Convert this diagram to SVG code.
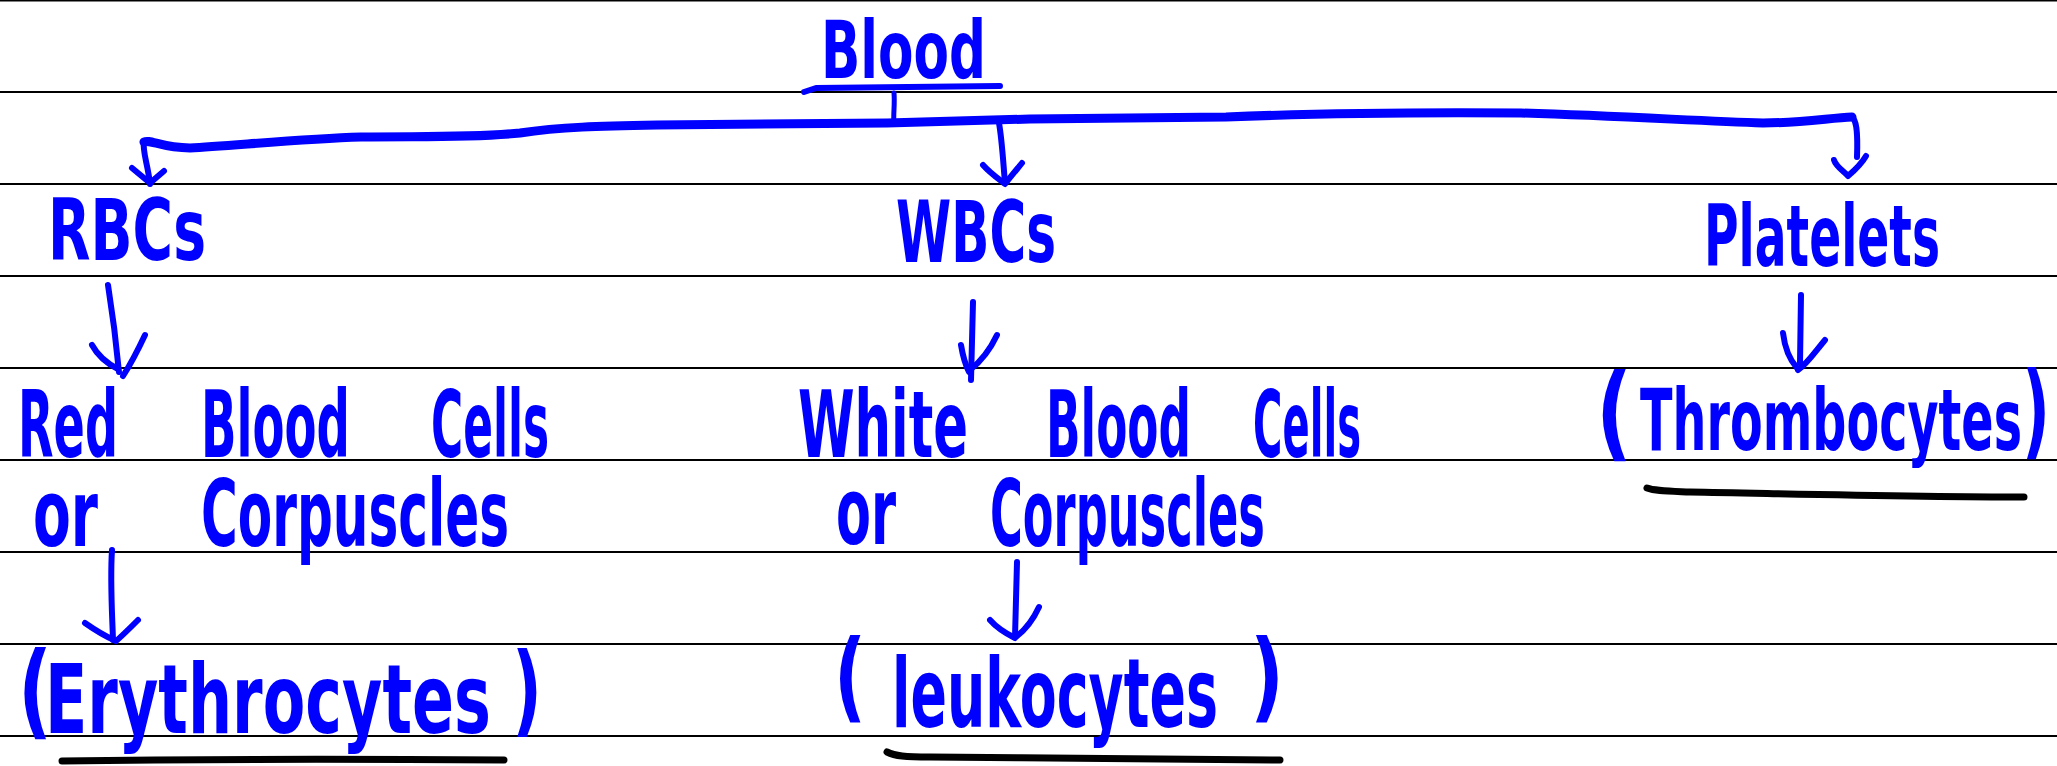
<svg xmlns="http://www.w3.org/2000/svg" width="2057" height="766" viewBox="0 0 2057 766">
<style>
.rule{stroke:#000;stroke-width:2;fill:none}
.t{font-family:"DejaVu Sans","Liberation Sans",sans-serif;font-weight:bold;fill:#0000ff}
.p{font-family:"DejaVu Sans","Liberation Sans",sans-serif;fill:#0000ff}
.c{stroke:#0000ff;fill:none;stroke-linecap:round;stroke-linejoin:round}
.main{stroke-width:9}
.arr{stroke-width:6}
.ul{stroke:#000;stroke-width:7;fill:none;stroke-linecap:round}
</style>
<rect width="2057" height="766" fill="#fff"/>
<g id="rules">
<line class="rule" x1="0" y1="0.5" x2="2057" y2="0.5"/>
<line class="rule" x1="0" y1="92" x2="2057" y2="92"/>
<line class="rule" x1="0" y1="184" x2="2057" y2="184"/>
<line class="rule" x1="0" y1="276" x2="2057" y2="276"/>
<line class="rule" x1="0" y1="368" x2="2057" y2="368"/>
<line class="rule" x1="0" y1="460" x2="2057" y2="460"/>
<line class="rule" x1="0" y1="552" x2="2057" y2="552"/>
<line class="rule" x1="0" y1="644" x2="2057" y2="644"/>
<line class="rule" x1="0" y1="736" x2="2057" y2="736"/>
</g>
<g id="connectors">
<path class="c" stroke-width="6" d="M804,92 L816,88 L1000,86"/>
<path class="c" stroke-width="5" d="M894,93 C895,105 893,115 894,124"/>
<path class="c main" d="M144,142 C150,139 162,148 190,148 C230,146 300,139 361,137 C420,136 470,138 520,133 C560,127 600,126 657,125 L887,123 L1030,119 L1226,117 C1300,114 1390,112 1521,113 C1620,116 1700,121 1763,123 C1800,123 1830,118 1852,117"/>
<path class="c arr" d="M144,142 C142,150 148,165 150,184"/>
<path class="c arr" d="M132,168 L150,183 L164,171"/>
<path class="c arr" d="M1852,117 C1856,120 1858,130 1857,157"/>
<path class="c arr" d="M1834,160 C1836,167 1845,172 1848,176 C1855,170 1862,163 1866,156"/>
<path class="c arr" d="M999,123 C1002,140 1003,160 1005,183"/>
<path class="c arr" d="M983,165 C990,173 1000,180 1005,184 C1012,175 1018,168 1022,163"/>
<path class="c arr" d="M108,285 C112,310 116,340 119,372"/>
<path class="c arr" d="M92,345 C98,356 108,364 118,369 M145,335 C138,350 130,365 123,376"/>
<path class="c arr" d="M973,302 L971,380"/>
<path class="c arr" d="M961,345 C963,357 966,366 969,372 M997,335 C990,350 980,362 970,370"/>
<path class="c arr" d="M1801,295 L1800,363"/>
<path class="c arr" d="M1783,333 C1785,350 1790,360 1797,368 M1825,340 C1815,352 1807,364 1798,370"/>
<path class="c arr" d="M112,550 C110,580 112,610 113,640"/>
<path class="c arr" d="M85,623 C95,630 105,636 114,640 M138,620 C130,628 122,636 116,641"/>
<path class="c arr" d="M1017,562 L1015,637"/>
<path class="c arr" d="M990,620 C997,628 1007,634 1015,638 M1039,607 C1033,620 1025,630 1016,637"/>
<path class="ul" d="M62,761 C200,759 350,759 504,760"/>
<path class="ul" d="M887,752 C895,756 905,757 930,757 C1050,758 1180,759 1280,760"/>
<path class="ul" d="M1647,488 C1655,491 1665,491 1690,492 C1800,494 1920,497 2024,497"/>
</g>
<g id="node-blood"><text class="t" x="821" y="78" font-size="80" textLength="165" lengthAdjust="spacingAndGlyphs">Blood</text></g>
<g id="node-rbcs"><text class="t" x="48" y="260" font-size="86" textLength="158" lengthAdjust="spacingAndGlyphs">RBCs</text></g>
<g id="node-wbcs"><text class="t" x="896" y="262" font-size="86" textLength="160" lengthAdjust="spacingAndGlyphs">WBCs</text></g>
<g id="node-platelets"><text class="t" x="1704" y="266" font-size="86" textLength="236" lengthAdjust="spacingAndGlyphs">Platelets</text></g>
<g id="node-rbc-name">
<text class="t" x="18" y="457" font-size="92" textLength="100" lengthAdjust="spacingAndGlyphs">Red</text>
<text class="t" x="201" y="457" font-size="92" textLength="149" lengthAdjust="spacingAndGlyphs">Blood</text>
<text class="t" x="431" y="457" font-size="92" textLength="118" lengthAdjust="spacingAndGlyphs">Cells</text>
<text class="t" x="33" y="546" font-size="92" textLength="65" lengthAdjust="spacingAndGlyphs">or</text>
<text class="t" x="201" y="546" font-size="92" textLength="308" lengthAdjust="spacingAndGlyphs">Corpuscles</text>
</g>
<g id="node-erythrocytes">
<text class="t" x="18" y="726" font-size="104" textLength="34" lengthAdjust="spacingAndGlyphs">(</text>
<text class="t" x="45" y="733" font-size="96" textLength="446" lengthAdjust="spacingAndGlyphs">Erythrocytes</text>
<text class="t" x="512" y="724" font-size="100" textLength="30" lengthAdjust="spacingAndGlyphs">)</text>
</g>
<g id="node-wbc-name">
<text class="t" x="798" y="457" font-size="92" textLength="170" lengthAdjust="spacingAndGlyphs">White</text>
<text class="t" x="1046" y="457" font-size="92" textLength="145" lengthAdjust="spacingAndGlyphs">Blood</text>
<text class="t" x="1253" y="457" font-size="92" textLength="108" lengthAdjust="spacingAndGlyphs">Cells</text>
<text class="t" x="836" y="544" font-size="92" textLength="60" lengthAdjust="spacingAndGlyphs">or</text>
<text class="t" x="990" y="546" font-size="92" textLength="275" lengthAdjust="spacingAndGlyphs">Corpuscles</text>
</g>
<g id="node-leukocytes">
<text class="t" x="834" y="710" font-size="98" textLength="32" lengthAdjust="spacingAndGlyphs">(</text>
<text class="t" x="892" y="727" font-size="96" textLength="326" lengthAdjust="spacingAndGlyphs">leukocytes</text>
<text class="t" x="1250" y="710" font-size="98" textLength="34" lengthAdjust="spacingAndGlyphs">)</text>
</g>
<g id="node-thrombocytes">
<text class="t" x="1596" y="448" font-size="104" textLength="36" lengthAdjust="spacingAndGlyphs">(</text>
<text class="t" x="1640" y="450" font-size="86" textLength="382" lengthAdjust="spacingAndGlyphs">Thrombocytes</text>
<text class="t" x="2022" y="446" font-size="104" textLength="28" lengthAdjust="spacingAndGlyphs">)</text>
</g>
</svg>
